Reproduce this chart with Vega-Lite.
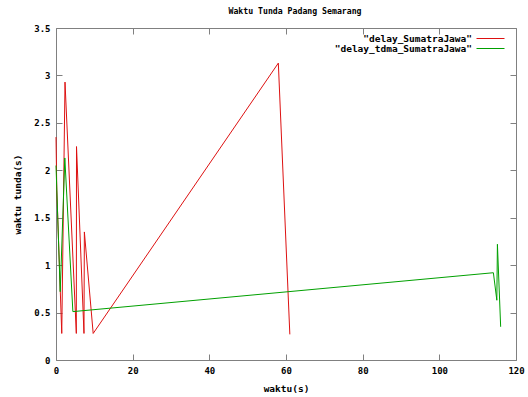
{
  "$schema": "https://vega.github.io/schema/vega-lite/v6.json",
  "width": 460,
  "height": 332,
  "autosize": "none",
  "padding": {"left": 56, "top": 28, "right": 12, "bottom": 37},
  "background": "white",
  "title": {"text": "Waktu Tunda Padang Semarang", "font": "DejaVu Sans Mono", "fontSize": 8.2, "fontWeight": "bold", "color": "#000", "offset": 7.5, "anchor": "middle", "dx": 9},
  "config": {
    "view": {"stroke": "#808080", "strokeWidth": 1},
    "axis": {"domain": false, "ticks": false, "grid": true, "gridColor": "#808080", "gridOpacity": 1, "labelPadding": 6, "labelFont": "DejaVu Sans Mono", "labelFontSize": 9, "labelFontWeight": "bold", "labelColor": "#000", "titleFont": "DejaVu Sans Mono", "titleFontSize": 9.5, "titleFontWeight": "bold", "titleColor": "#000"}
  },
  "data": {"values": [
    {"s": "delay_SumatraJawa", "i": 0, "t": 0, "v": 2.35},
    {"s": "delay_SumatraJawa", "i": 1, "t": 0.2, "v": 1.8},
    {"s": "delay_SumatraJawa", "i": 2, "t": 1.5, "v": 0.28},
    {"s": "delay_SumatraJawa", "i": 3, "t": 2.35, "v": 2.93},
    {"s": "delay_SumatraJawa", "i": 4, "t": 5.3, "v": 0.28},
    {"s": "delay_SumatraJawa", "i": 5, "t": 5.35, "v": 2.25},
    {"s": "delay_SumatraJawa", "i": 6, "t": 7.3, "v": 0.28},
    {"s": "delay_SumatraJawa", "i": 7, "t": 7.4, "v": 1.35},
    {"s": "delay_SumatraJawa", "i": 8, "t": 9.7, "v": 0.28},
    {"s": "delay_SumatraJawa", "i": 9, "t": 58, "v": 3.13},
    {"s": "delay_SumatraJawa", "i": 10, "t": 61, "v": 0.27},
    {"s": "delay_tdma_SumatraJawa", "i": 0, "t": 0, "v": 2.05},
    {"s": "delay_tdma_SumatraJawa", "i": 1, "t": 1.1, "v": 0.72},
    {"s": "delay_tdma_SumatraJawa", "i": 2, "t": 2.3, "v": 2.13},
    {"s": "delay_tdma_SumatraJawa", "i": 3, "t": 4.4, "v": 0.51},
    {"s": "delay_tdma_SumatraJawa", "i": 4, "t": 114.1, "v": 0.92},
    {"s": "delay_tdma_SumatraJawa", "i": 5, "t": 115.0, "v": 0.63},
    {"s": "delay_tdma_SumatraJawa", "i": 6, "t": 115.15, "v": 1.22},
    {"s": "delay_tdma_SumatraJawa", "i": 7, "t": 116.0, "v": 0.35}
  ]},
  "mark": {"type": "line", "strokeWidth": 1, "interpolate": "linear"},
  "encoding": {
    "x": {"field": "t", "type": "quantitative", "scale": {"domain": [0, 120], "nice": false}, "axis": {"values": [0, 20, 40, 60, 80, 100, 120], "title": "waktu(s)", "titlePadding": 8, "labelFlush": false, "gridDash": [6, 320, 6, 10]}},
    "y": {"field": "v", "type": "quantitative", "scale": {"domain": [0, 3.5], "nice": false}, "axis": {"values": [0, 0.5, 1, 1.5, 2, 2.5, 3, 3.5], "format": "~r", "title": "waktu tunda(s)", "titlePadding": 11, "labelFlush": false, "gridDash": [6, 448, 6, 10]}},
    "color": {"field": "s", "type": "nominal", "scale": {"domain": ["delay_SumatraJawa", "delay_tdma_SumatraJawa"], "range": ["#dd1111", "#00a000"]},
      "legend": {"title": null, "orient": "none", "legendX": 429, "legendY": 5, "padding": 0, "symbolType": "M-2.8,0H2.8", "symbolSize": 100, "symbolStrokeWidth": 1, "symbolFillColor": "transparent", "symbolOpacity": 1, "labelAlign": "right", "labelOffset": -24, "labelFont": "DejaVu Sans Mono", "labelFontSize": 9.5, "labelFontWeight": "bold", "labelColor": "#000", "rowPadding": 0, "labelLimit": 300, "labelExpr": "'\"' + datum.label + '\"'"}},
    "order": {"field": "i", "type": "quantitative"}
  }
}
